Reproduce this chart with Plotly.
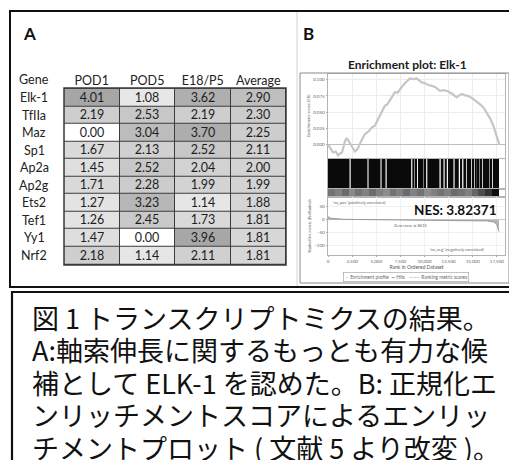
import plotly.graph_objects as go

W, H = 509, 460
def px(x): return x / W
def py(y): return 1 - y / H

# ---------------- Panel A data ----------------
genes = ["Elk-1", "TfIIa", "Maz", "Sp1", "Ap2a", "Ap2g", "Ets2", "Tef1", "Yy1", "Nrf2"]
columns = ["POD1", "POD5", "E18/P5", "Average"]
pod1 = [4.01, 2.19, 0.00, 1.67, 1.45, 1.71, 1.27, 1.26, 1.47, 2.18]
pod5 = [1.08, 2.53, 3.04, 2.13, 2.52, 2.28, 3.23, 2.45, 0.00, 1.14]
e18p5 = [3.62, 2.19, 3.70, 2.52, 2.04, 1.99, 1.14, 1.73, 3.96, 2.11]
average = [2.90, 2.30, 2.25, 2.11, 2.00, 1.99, 1.88, 1.81, 1.81, 1.81]

# ---------------- Panel B data ----------------
es_rank = [0, 250, 520, 800, 1040, 1250, 1450, 1600, 1760, 1940, 2100, 2280, 2550, 2800,
           3000, 3140, 3400, 3830, 4200, 4530, 4850, 5210, 5500, 5900, 6150, 6420, 6700,
           6940, 7200, 7460, 7700, 7980, 8250, 8500, 8800, 9190, 9450, 9710, 10000, 10390,
           10700, 11090, 11350, 11600, 12000, 12460, 12900, 13330, 13600, 13850, 14200,
           14540, 14900, 15230, 15600, 15920, 16200, 16440, 16800, 17130, 17450, 17750]
es_val = [0.000, -0.006, -0.0125, -0.011, -0.017, -0.014, -0.0125, -0.004, 0.005, 0.010,
          0.006, 0.000, -0.006, -0.011, -0.008, -0.005, 0.004, 0.016, 0.020, 0.026, 0.029,
          0.039, 0.048, 0.060, 0.062, 0.069, 0.075, 0.081, 0.080, 0.086, 0.090, 0.095,
          0.099, 0.102, 0.101, 0.102, 0.099, 0.096, 0.095, 0.092, 0.091, 0.089, 0.086,
          0.083, 0.084, 0.082, 0.078, 0.073, 0.076, 0.078, 0.076, 0.075, 0.072, 0.068,
          0.064, 0.060, 0.055, 0.049, 0.040, 0.029, 0.012, 0.000]

hit_start = [0, 2350, 4200, 5550, 6080, 8740, 9080, 9320, 10020, 10290, 11680, 12090, 12430,
             13120, 13680, 14030, 14450, 14710, 14960, 15200, 15540, 15820, 16100, 16370,
             16570, 16850, 17130, 17360, 17540]
hit_end = [2230, 4090, 5440, 5960, 8620, 8960, 9200, 9900, 10170, 11550, 11970, 12310, 13000,
           13550, 13900, 14320, 14590, 14840, 15080, 15420, 15700, 15980, 16250, 16450,
           16730, 17010, 17250, 17430, 17620]

band_rank = [354, 1062, 1770, 2478, 3186, 3894, 4602, 5310, 6018, 6726, 7434, 8142, 8850,
             9558, 10266, 10974, 11682, 12390, 13098, 13806, 14514, 15222, 15930, 16638, 17346]
band_val = [0.55, 0.50, 0.58, 0.46, 0.55, 0.50, 0.58, 0.50, 0.45, 0.55, 0.50, 0.58, 0.50,
            0.55, 0.45, 0.50, 0.55, 0.50, 0.58, 0.55, 0.50, 0.60, 0.70, 0.80, 0.95]

metric_rank = [0, 100, 300, 700, 1500, 3000, 5000, 8615, 12000, 15000, 16500, 17200, 17500,
               17650, 17720]
metric_val = [14, 9, 6, 4, 2.5, 1.5, 0.8, 0, -0.8, -2, -4, -8, -18, -38, -45]

rank_ticks = [0, 2500, 5000, 7500, 10000, 12500, 15000, 17500]
es_ticks = [0.0, 0.025, 0.05, 0.075, 0.1]
metric_ticks = [-100, -50, 0, 50]

caption_lines = [
    "図 1 トランスクリプトミクスの結果。",
    "A:軸索伸長に関するもっとも有力な候",
    "補として ELK-1 を認めた。B: 正規化エ",
    "ンリッチメントスコアによるエンリッ",
    "チメントプロット ( 文献 5 より改変 )。",
]

# ---------------- Figure ----------------
fig = go.Figure()

z = [[pod1[i], pod5[i], e18p5[i], average[i]] for i in range(len(genes))]
fig.add_trace(go.Heatmap(
    z=z, x=columns, y=genes, colorscale=[[0, "#ffffff"], [1, "#a6a6a6"]],
    zmin=0, zmax=4.01, showscale=False, xgap=1, ygap=1,
    texttemplate="%{z:.2f}", textfont=dict(family="Lato", size=12.5, color="#1e1e1e"),
    hoverinfo="skip", xaxis="x", yaxis="y"))

fig.add_trace(go.Scatter(x=es_rank, y=es_val, mode="lines",
                         line=dict(color="#c6c6c6", width=2.2),
                         hoverinfo="skip", showlegend=False, xaxis="x2", yaxis="y2"))

centers = [(s + e) / 2 for s, e in zip(hit_start, hit_end)]
widths = [e - s for s, e in zip(hit_start, hit_end)]
fig.add_trace(go.Bar(x=centers, y=[1] * len(centers), width=widths, base=0,
                     marker=dict(color="#0a0a0a", line=dict(width=0)),
                     hoverinfo="skip", showlegend=False, xaxis="x3", yaxis="y3"))

fig.add_trace(go.Heatmap(z=[band_val], x=band_rank, y=[0],
                         colorscale=[[0, "#ffffff"], [1, "#000000"]], zmin=0, zmax=1,
                         showscale=False, hoverinfo="skip", xaxis="x4", yaxis="y4"))

fig.add_trace(go.Scatter(x=metric_rank, y=metric_val, mode="lines", fill="tozeroy",
                         line=dict(color="#9a9a9a", width=1), fillcolor="#b5b5b5",
                         hoverinfo="skip", showlegend=False, xaxis="x5", yaxis="y5"))

gx = [px(328), px(505)]
xr = [0, 18340]
small = dict(family="Lato", size=4.5, color="#666")
frame = dict(showline=True, mirror=True, linecolor="#b4b4b4", linewidth=0.8)

fig.update_layout(
    width=W, height=H, margin=dict(l=0, r=0, t=0, b=0, autoexpand=False),
    paper_bgcolor="white", plot_bgcolor="white", showlegend=False,
    xaxis=dict(domain=[px(64), px(286)], side="top", anchor="y", showgrid=False,
               zeroline=False, ticks="", tickfont=dict(family="Lato", size=12.5, color="#222"),
               fixedrange=True),
    yaxis=dict(domain=[py(265), py(88)], anchor="x", autorange="reversed",
               showticklabels=False, showgrid=False, zeroline=False),
    xaxis2=dict(domain=gx, anchor="y2", range=xr, tickvals=rank_ticks, showticklabels=False,
                showgrid=True, gridcolor="#ececec", gridwidth=0.6, zeroline=False, **frame),
    yaxis2=dict(domain=[py(158), py(74)], anchor="x2", range=[-0.021, 0.109],
                tickvals=es_ticks, tickformat=".3f", tickfont=small, showgrid=True,
                gridcolor="#ececec", gridwidth=0.6, zeroline=True, zerolinecolor="#bdbdbd",
                zerolinewidth=0.8, ticks="outside", ticklen=1.5, tickcolor="#aaa",
                title=dict(text="Enrichment score (ES)", font=small, standoff=2), **frame),
    xaxis3=dict(domain=gx, anchor="y3", range=xr, showticklabels=False, showgrid=False,
                zeroline=False, **frame),
    yaxis3=dict(domain=[py(189), py(159)], anchor="x3", range=[0, 1], showticklabels=False,
                showgrid=False, zeroline=False, **frame),
    xaxis4=dict(domain=gx, anchor="y4", range=xr, showticklabels=False, showgrid=False,
                zeroline=False, **frame),
    yaxis4=dict(domain=[py(197), py(189)], anchor="x4", showticklabels=False,
                showgrid=False, zeroline=False, **frame),
    xaxis5=dict(domain=gx, anchor="y5", range=xr, tickvals=rank_ticks, tickformat=",d",
                tickfont=small, showgrid=True, gridcolor="#f0f0f0", gridwidth=0.6,
                zeroline=False, ticks="outside", ticklen=1.5, tickcolor="#aaa",
                title=dict(text="Rank in Ordered Dataset", font=dict(family="Lato", size=5, color="#555"),
                           standoff=1), **frame),
    yaxis5=dict(domain=[py(255), py(197)], anchor="x5", range=[-135, 88],
                tickvals=metric_ticks, tickfont=small, showgrid=True, gridcolor="#f0f0f0",
                gridwidth=0.6, zeroline=True, zerolinecolor="#c8c8c8", zerolinewidth=0.8,
                ticks="outside", ticklen=1.5, tickcolor="#aaa",
                title=dict(text="Ranked list metric (PreRanked)", font=dict(family="Lato", size=4, color="#666"),
                           standoff=2), **frame),
)

ann = []
ann.append(dict(x=px(21), y=py(33), xref="paper", yref="paper", text="<b>A</b>",
                showarrow=False, xanchor="left", yanchor="middle",
                font=dict(family="Lato", size=17, color="#111")))
ann.append(dict(x=px(301), y=py(33), xref="paper", yref="paper", text="<b>B</b>",
                showarrow=False, xanchor="left", yanchor="middle",
                font=dict(family="Lato", size=17, color="#111")))
ann.append(dict(x=px(34), y=py(79), xref="paper", yref="paper", text="Gene",
                showarrow=False, xanchor="center", yanchor="middle",
                font=dict(family="Lato", size=12.5, color="#222")))
for g in genes:
    ann.append(dict(x=px(34), y=g, xref="paper", yref="y", text=g, showarrow=False,
                    xanchor="center", yanchor="middle",
                    font=dict(family="Lato", size=12.5, color="#222")))
ann.append(dict(x=px(407), y=py(65), xref="paper", yref="paper",
                text="<b>Enrichment plot: Elk-1</b>", showarrow=False,
                xanchor="center", yanchor="middle",
                font=dict(family="Lato", size=12, color="#1a1a1a")))
ann.append(dict(x=px(455), y=py(210), xref="paper", yref="paper",
                text="<b>NES: 3.82371</b>", showarrow=False,
                xanchor="center", yanchor="middle",
                font=dict(family="Lato", size=13.5, color="#111")))
ann.append(dict(x=300, y=84, xref="x5", yref="y5", text="'na_pos' (positively correlated)",
                showarrow=False, xanchor="left", yanchor="top",
                font=dict(family="Lato", size=4, color="#666")))
ann.append(dict(x=8615, y=-20, xref="x5", yref="y5", text="Zero cross at 8615",
                showarrow=False, xanchor="center", yanchor="middle",
                font=dict(family="Lato", size=4, color="#666")))
ann.append(dict(x=16400, y=-112, xref="x5", yref="y5",
                text="'na_neg' (negatively correlated)", showarrow=False,
                xanchor="right", yanchor="middle",
                font=dict(family="Lato", size=4, color="#666")))
ann.append(dict(x=px(406), y=py(277), xref="paper", yref="paper",
                text="<span style='color:#c0c0c0'>—</span> Enrichment profile  "
                     "<span style='color:#000'>—</span> Hits   "
                     "<span style='color:#999'>———</span> Ranking metric scores",
                showarrow=False, xanchor="center", yanchor="middle",
                bordercolor="#9a9a9a", borderwidth=0.6, borderpad=1.5,
                font=dict(family="Lato", size=4.8, color="#666")))
for i, line in enumerate(caption_lines):
    ann.append(dict(x=px(30), y=py(317.5 + 32.4 * i), xref="paper", yref="paper",
                    text=line, showarrow=False, xanchor="left", yanchor="middle",
                    font=dict(family="Noto Sans CJK JP", size=27, color="#111")))
fig.update_layout(annotations=ann)

shapes = [
    # dark grid behind table cells
    dict(type="rect", xref="x domain", yref="y domain", x0=0, x1=1, y0=0, y1=1,
         fillcolor="#3c3c3c", line=dict(width=0), layer="below"),
    dict(type="rect", xref="x domain", yref="y domain", x0=0, x1=1, y0=0, y1=1,
         line=dict(color="#383838", width=1.5), layer="above"),
    # panel frames
    dict(type="rect", xref="paper", yref="paper", x0=px(10), x1=px(530), y0=py(287), y1=py(11),
         line=dict(color="#111", width=2)),
    dict(type="line", xref="paper", yref="paper", x0=px(297), x1=px(297), y0=py(286), y1=py(12),
         line=dict(color="#d2d2d2", width=1)),
    dict(type="rect", xref="paper", yref="paper", x0=px(300), x1=px(509), y0=py(283), y1=py(73),
         line=dict(color="#8a8a8a", width=1)),
    # caption frame
    dict(type="rect", xref="paper", yref="paper", x0=px(12), x1=px(530), y0=py(480), y1=py(292),
         line=dict(color="#111", width=2.2)),
]
fig.update_layout(shapes=shapes)

fig.write_html("out.html", config={"displayModeBar": False},
               post_script="document.body.style.margin='0';document.body.style.overflow='hidden';")
